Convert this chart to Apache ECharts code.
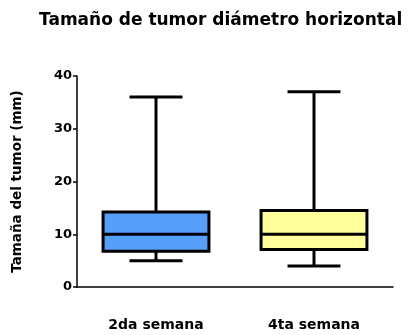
<!DOCTYPE html>
<html>
<head>
<meta charset="utf-8">
<script src="https://cdn.jsdelivr.net/npm/echarts@6/dist/echarts.min.js"></script>
<style>
  html, body { margin: 0; padding: 0; background: #fff; }
  #chart { width: 408px; height: 335px; }
</style>
</head>
<body>
<div id="chart"></div>
<script>
// Tumour horizontal diameter (mm) by week
const categories = ['2da semana', '4ta semana'];
const whiskerLow = [5.0, 4.0];
const q1 = [6.8, 7.1];
const median = [10.0, 10.0];
const q3 = [14.2, 14.5];
const whiskerHigh = [36.0, 37.0];
const boxColors = ['#559ff8', '#ffff9c'];
const yTicks = [0, 10, 20, 30, 40];

const boxData = categories.map((c, i) => [i, whiskerLow[i], q1[i], median[i], q3[i], whiskerHigh[i]]);

const font = '"DejaVu Sans", Verdana, sans-serif';

function renderBox(params, api) {
  const idx = api.value(0);
  const band = api.size([1, 0])[0];
  const boxW = band * 0.67;
  const capW = boxW * 0.5;
  const pLow = api.coord([idx, api.value(1)]);
  const pQ1 = api.coord([idx, api.value(2)]);
  const pMed = api.coord([idx, api.value(3)]);
  const pQ3 = api.coord([idx, api.value(4)]);
  const pHigh = api.coord([idx, api.value(5)]);
  const cx = pMed[0];
  const line = { stroke: '#000', lineWidth: 3 };
  return {
    type: 'group',
    children: [
      { type: 'line', shape: { x1: cx, y1: pHigh[1], x2: cx, y2: pQ3[1] }, style: line },
      { type: 'line', shape: { x1: cx, y1: pLow[1], x2: cx, y2: pQ1[1] }, style: line },
      { type: 'line', shape: { x1: cx - capW / 2, y1: pHigh[1], x2: cx + capW / 2, y2: pHigh[1] }, style: line },
      { type: 'line', shape: { x1: cx - capW / 2, y1: pLow[1], x2: cx + capW / 2, y2: pLow[1] }, style: line },
      { type: 'rect', shape: { x: cx - boxW / 2, y: pQ3[1], width: boxW, height: pQ1[1] - pQ3[1] },
        style: { fill: boxColors[idx], stroke: '#000', lineWidth: 3 } },
      { type: 'line', shape: { x1: cx - boxW / 2, y1: pMed[1], x2: cx + boxW / 2, y2: pMed[1] }, style: line }
    ]
  };
}

const chart = echarts.init(document.getElementById('chart'), null, { renderer: 'canvas' });
chart.setOption({
  animation: false,
  title: {
    text: 'Tamaño de tumor diámetro horizontal',
    left: 39, top: 12,
    padding: 0,
    textStyle: { fontFamily: font, fontWeight: 'bold', fontSize: 17, color: '#000' }
  },
  grid: { left: 77, right: 15, top: 76, bottom: 48, containLabel: false, outerBoundsMode: 'none' },
  xAxis: {
    type: 'category',
    data: categories,
    boundaryGap: true,
    axisLine: { lineStyle: { color: '#000', width: 1.5 } },
    axisTick: { alignWithLabel: true, length: 4, lineStyle: { color: '#000', width: 1.5 } },
    axisLabel: { margin: 31, fontFamily: font, fontWeight: 'bold', fontSize: 14, color: '#000' },
    splitLine: { show: false }
  },
  yAxis: {
    type: 'value',
    min: 0, max: 40, interval: 10,
    name: 'Tamaña del tumor (mm)',
    nameLocation: 'middle',
    nameGap: 53,
    nameRotate: 90,
    nameTextStyle: { fontFamily: font, fontWeight: 'bold', fontSize: 13.5, color: '#000' },
    axisLine: { show: true, lineStyle: { color: '#000', width: 1.5 } },
    axisTick: { show: true, length: 4, lineStyle: { color: '#000', width: 1.5 } },
    axisLabel: {
      margin: 5, fontFamily: font, fontWeight: 'bold', fontSize: 13, color: '#000',
      formatter: v => (yTicks.includes(v) ? String(v) : '')
    },
    splitLine: { show: false }
  },
  series: [{
    type: 'custom',
    renderItem: renderBox,
    encode: { x: 0, y: [1, 2, 3, 4, 5] },
    data: boxData
  }]
});
</script>
</body>
</html>
